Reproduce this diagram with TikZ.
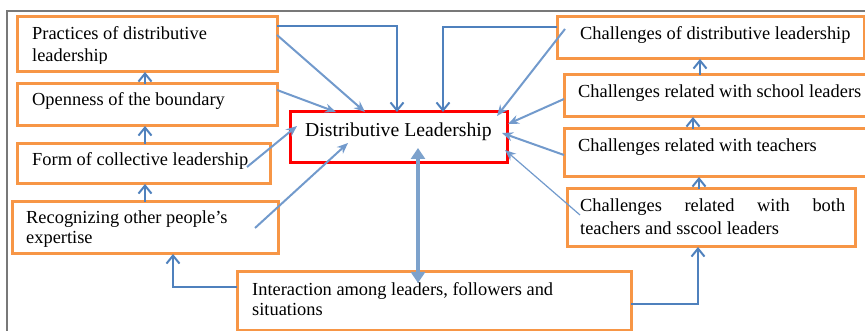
\documentclass[tikz,border=0pt]{standalone}
\usepackage{fontspec}
\setmainfont{Liberation Serif}
\usetikzlibrary{arrows.meta,calc}
\definecolor{org}{RGB}{247,150,70}
\definecolor{bdk}{RGB}{79,129,189}
\definecolor{blt}{RGB}{114,154,204}
\definecolor{bdb}{RGB}{125,162,204}
\definecolor{frm}{RGB}{120,120,120}
\newcommand\twoln[3]{\vtop{\baselineskip=#1\hbox{#2}\hbox{#3}}}
\begin{document}
\begin{tikzpicture}[x=1pt,y=-1pt,
  obox/.style={draw=org,line width=3pt,inner sep=0pt,outer sep=0pt,anchor=north west},
  rbox/.style={draw=red,line width=3pt,inner sep=0pt,outer sep=0pt,anchor=north west},
  txt/.style={inner sep=0pt,anchor=base west,font=\fontsize{18.4}{21}\selectfont},
  vup/.style={draw=bdk,line width=2pt,-{Straight Barb[length=8pt,width=13pt]}},
  dia/.style={draw=blt,line width=2pt,-{Stealth[length=11pt,width=9pt]}},
  thn/.style={draw=blt,line width=1.2pt,-{Stealth[length=11pt,width=9pt]}},
  dbl/.style={draw=bdb,line width=4.5pt,{Triangle[length=11pt,width=14pt]}-{Triangle[length=11pt,width=14pt]}}
]
\useasboundingbox (0,0) rectangle (865,331);
% outer frame
\draw[frm,line width=1.5pt] (7,331) -- (7,11) -- (866,11);

% texts
\begin{scope}
  \clip (17,17) rectangle (277,63.5);
  \node[txt] (tA) at (32,39.5) {\twoln{22pt}{Practices of distributive}{leadership}};
\end{scope}
\node[txt] (tB) at (32,106) {Openness of the boundary};
\node[txt] (tC) at (32,166) {Form of collective leadership};
\node[txt] (tD) at (26,224) {\twoln{19.5pt}{Recognizing other people’s}{expertise}};
\node[txt,font=\fontsize{19.7}{22}\selectfont] (tCn) at (305,137) {Distributive Leadership};
\node[txt] (tE) at (580,40) {Challenges of distributive leadership};
\node[txt] (tF) at (578,98) {Challenges related with school leaders};
\node[txt] (tG) at (578,152) {Challenges related with teachers};
\node[txt] (tH) at (580,212) {\twoln{23pt}{\makebox[265pt][s]{Challenges\hfill related\hfill with\hfill both}}{teachers and sscool leaders}};
\node[txt] (tI) at (252,295) {\twoln{20pt}{Interaction among leaders, followers and}{situations}};

% boxes
\node[obox,minimum width=260pt,minimum height=55pt] (A) at (17,17) {};
\node[obox,minimum width=260pt,minimum height=42pt] (B) at (17,84) {};
\node[obox,minimum width=253pt,minimum height=40pt] (C) at (17,144) {};
\node[obox,minimum width=266pt,minimum height=52pt] (D) at (12,202) {};
\node[rbox,minimum width=217pt,minimum height=51pt] (Cn) at (290,112) {};
\node[obox,minimum width=307pt,minimum height=42pt] (E) at (557,17) {};
\node[obox,minimum width=306pt,minimum height=42pt] (F) at (564,75) {};
\node[obox,minimum width=306pt,minimum height=48pt] (G) at (564,129) {};
\node[obox,minimum width=288pt,minimum height=58pt] (H) at (567,189) {};
\node[obox,minimum width=394pt,minimum height=58pt] (I) at (237,272) {};

% vertical chain arrows
\draw[vup] (145,0 |- D.north) -- (145,0 |- C.south);
\draw[vup] (145,0 |- C.north) -- (145,0 |- B.south);
\draw[vup] (145,0 |- B.north) -- (145,0 |- A.south);
\draw[vup] (699,0 |- H.north) -- (699,0 |- G.south);
\draw[vup] (693,0 |- G.north) -- (693,0 |- F.south);
\draw[vup] (700,0 |- F.north) -- (700,0 |- E.south);

% elbow connectors
\draw[vup] (A.east |- 0,26) -| (397,0 |- Cn.north);
\draw[vup] (E.west |- 0,27) -| (443,0 |- Cn.north);
\draw[vup] (I.west |- 0,287) -| (173,0 |- D.south);
\draw[vup] (I.east |- 0,304) -| (698,0 |- H.south);

% diagonal connectors
\draw[dia] (A.east |- 0,35) -- (365,0 |- Cn.north);
\draw[dia] (B.east |- 0,90) -- (336,0 |- Cn.north);
\draw[dia] ($(C.north west)+(230,23)$) -- ($(Cn.north west)+(7,14)$);
\draw[dia] ($(D.north west)+(243,26)$) -- ($(Cn.north west)+(58,31)$);
\draw[dia] ($(E.north west)+(8,12)$) -- ($(Cn.north east)+(-10,4)$);
\draw[dia] (F.west |- 0,99) -- ($(Cn.north east)+(1,12)$);
\draw[dia] (G.west |- 0,155) -- ($(Cn.north east)+(-5,21)$);
\draw[thn] ($(H.north west)+(13,26)$) -- ($(Cn.north east)+(-2,38)$);

% double arrow
\draw[dbl] ($(Cn.north west)+(128,36)$) -- ($(418,0 |- I.north)+(0,11)$);
\end{tikzpicture}
\end{document}
